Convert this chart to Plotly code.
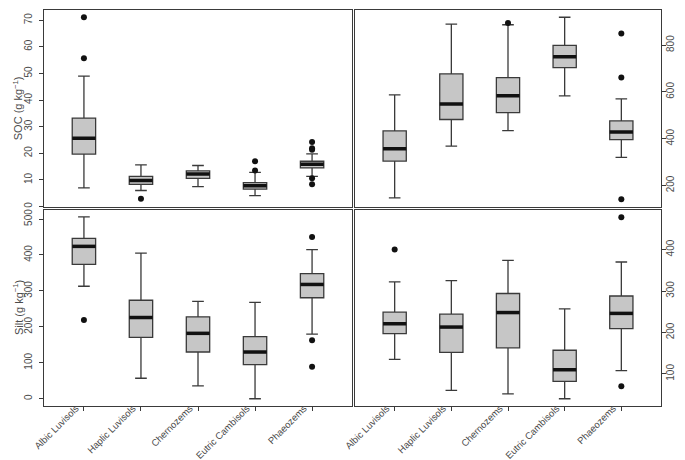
import plotly.graph_objects as go

categories = ["Albic Luvisols", "Haplic Luvisols", "Chernozems", "Eutric Cambisols", "Phaeozems"]

# SOC (g/kg)
soc_lower = [7.0, 6.0, 7.5, 4.1, 11.3]
soc_q1 = [19.7, 8.3, 10.6, 6.5, 14.5]
soc_med = [25.6, 9.8, 12.2, 7.75, 15.9]
soc_q3 = [33.2, 11.3, 13.4, 9.0, 17.0]
soc_upper = [49.0, 15.6, 15.4, 12.8, 19.8]
soc_out_cat = ["Albic Luvisols", "Albic Luvisols", "Haplic Luvisols", "Eutric Cambisols", "Eutric Cambisols",
               "Phaeozems", "Phaeozems", "Phaeozems", "Phaeozems", "Phaeozems"]
soc_out_val = [71.1, 55.7, 2.9, 17.0, 13.5, 24.2, 21.9, 21.3, 10.6, 8.4]

# Sand (g/kg)
sand_lower = [147, 368, 434, 583, 320]
sand_q1 = [304, 482, 511, 704, 396]
sand_med = [357, 548, 583, 750, 428]
sand_q3 = [433, 677, 661, 799, 476]
sand_upper = [587, 890, 887, 919, 570]
sand_out_cat = ["Chernozems", "Phaeozems", "Phaeozems", "Phaeozems"]
sand_out_val = [894, 850, 661, 141]

# Silt (g/kg)
silt_lower = [313, 57, 36, 0, 180]
silt_q1 = [374, 171, 130, 95, 281]
silt_med = [424, 226, 182, 130, 318]
silt_q3 = [446, 274, 228, 173, 348]
silt_upper = [506, 405, 271, 268, 415]
silt_out_cat = ["Albic Luvisols", "Phaeozems", "Phaeozems", "Phaeozems"]
silt_out_val = [219, 450, 163, 89]

# Clay (g/kg)
clay_lower = [135, 60, 52, 40, 108]
clay_q1 = [197, 152, 163, 82, 209]
clay_med = [221, 213, 248, 110, 246]
clay_q3 = [249, 244, 294, 157, 288]
clay_upper = [322, 325, 374, 257, 370]
clay_out_cat = ["Albic Luvisols", "Phaeozems", "Phaeozems"]
clay_out_val = [400, 478, 70]

y_titles = ["SOC", "Sand", "Silt", "Clay"]

BOXW = 0.41
FILL = "#c6c6c6"
LINE = "#3a3a3a"
TXT = "#4a4a4a"
FONT = "Liberation Sans, Arial, sans-serif"

panels = [
    ("x", "y", soc_lower, soc_q1, soc_med, soc_q3, soc_upper, soc_out_cat, soc_out_val),
    ("x2", "y2", sand_lower, sand_q1, sand_med, sand_q3, sand_upper, sand_out_cat, sand_out_val),
    ("x3", "y3", silt_lower, silt_q1, silt_med, silt_q3, silt_upper, silt_out_cat, silt_out_val),
    ("x4", "y4", clay_lower, clay_q1, clay_med, clay_q3, clay_upper, clay_out_cat, clay_out_val),
]

idx = list(range(len(categories)))
fig = go.Figure()
for xa, ya, lo, q1, md, q3, up, ocat, oval in panels:
    fig.add_trace(go.Box(
        x=idx, lowerfence=lo, q1=q1, median=md, q3=q3, upperfence=up,
        width=BOXW, whiskerwidth=0.5, fillcolor=FILL,
        line=dict(color=LINE, width=1.3), boxpoints=False,
        xaxis=xa, yaxis=ya, showlegend=False, hoverinfo="skip"))
    mx, my = [], []
    for i, m in zip(idx, md):
        mx += [i - BOXW / 2, i + BOXW / 2, None]
        my += [m, m, None]
    fig.add_trace(go.Scatter(x=mx, y=my, mode="lines", line=dict(color="#111111", width=3.5),
                             xaxis=xa, yaxis=ya, showlegend=False, hoverinfo="skip"))
    fig.add_trace(go.Scatter(x=[categories.index(c) for c in ocat], y=oval, mode="markers",
                             marker=dict(color="#111111", size=6),
                             xaxis=xa, yaxis=ya, showlegend=False, hoverinfo="skip"))

W, H = 685, 460
L, R, T, B = 36, 32, 2, 62
pw, ph = W - L - R, H - T - B
dl = [0, (344 - L) / pw]
dr = [(347 - L) / pw, 1]
dt = [(398 - 198.5) / ph, 1]
db = [0, (398 - 202) / ph]

common_x = dict(range=[-0.7, 4.7], showgrid=False, zeroline=False, showline=True, mirror=True,
                linecolor=LINE, linewidth=1.3, tickvals=idx, ticktext=categories, automargin=False,
                tickfont=dict(size=9.5, color=TXT, family=FONT))
common_y = dict(showgrid=False, zeroline=False, showline=True, mirror=True, linecolor=LINE,
                linewidth=1.3, ticks="outside", ticklen=4, tickcolor=LINE, tickangle=-90, automargin=False,
                tickfont=dict(size=10, color=TXT, family=FONT))
left_y = dict(ticklabelstandoff=3)
right_y = dict(side="right", ticklabelstandoff=-4)
bottom_x = dict(ticks="outside", ticklen=4, tickcolor=LINE, tickangle=-45,
                ticklabelstandoff=-12, ticklabelshift=-8)

fig.update_layout(
    width=W, height=H, margin=dict(l=L, r=R, t=T, b=B, autoexpand=False),
    paper_bgcolor="white", plot_bgcolor="white",
    xaxis=dict(common_x, domain=dl, anchor="y", showticklabels=False, ticks=""),
    xaxis2=dict(common_x, domain=dr, anchor="y2", showticklabels=False, ticks=""),
    xaxis3=dict(common_x, **bottom_x, domain=dl, anchor="y3"),
    xaxis4=dict(common_x, **bottom_x, domain=dr, anchor="y4"),
    yaxis=dict(common_y, **left_y, domain=dt, anchor="x", range=[0, 73.8],
               tickvals=[0, 10, 20, 30, 40, 50, 60, 70]),
    yaxis2=dict(common_y, **right_y, domain=dt, anchor="x2", range=[110, 950],
                tickvals=[200, 400, 600, 800]),
    yaxis3=dict(common_y, **left_y, domain=db, anchor="x3", range=[-20.2, 525.2],
                tickvals=[0, 100, 200, 300, 400, 500]),
    yaxis4=dict(common_y, **right_y, domain=db, anchor="x4", range=[22.5, 495.5],
                tickvals=[100, 200, 300, 400]),
)

title_x = [(10 - L) / pw, (677 - L) / pw, (10 - L) / pw, (677 - L) / pw]
title_y = [sum(dt) / 2, sum(dt) / 2, sum(db) / 2, sum(db) / 2]
for t, tx, ty in zip(y_titles, title_x, title_y):
    fig.add_annotation(text=t + " (g kg<sup>−1</sup>)", xref="paper", yref="paper", x=tx, y=ty,
                       xanchor="center", yanchor="middle", textangle=-90, showarrow=False,
                       font=dict(size=11, color=TXT, family=FONT))

fig.write_html("out.html")
